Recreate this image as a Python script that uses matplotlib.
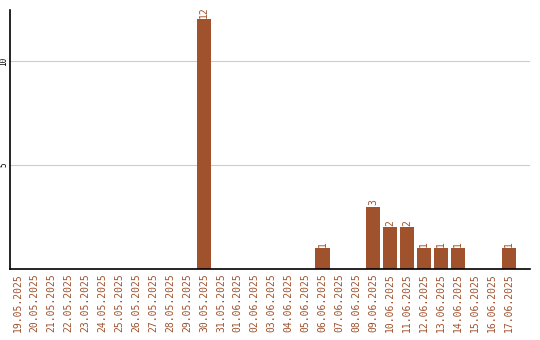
import matplotlib
matplotlib.use("Agg")
import matplotlib.pyplot as plt
import numpy as np

# dias e contagens
dates = ["19.05.2025", "20.05.2025", "21.05.2025", "22.05.2025", "23.05.2025",
         "24.05.2025", "25.05.2025", "26.05.2025", "27.05.2025", "28.05.2025",
         "29.05.2025", "30.05.2025", "31.05.2025", "01.06.2025", "02.06.2025",
         "03.06.2025", "04.06.2025", "05.06.2025", "06.06.2025", "07.06.2025",
         "08.06.2025", "09.06.2025", "10.06.2025", "11.06.2025", "12.06.2025",
         "13.06.2025", "14.06.2025", "15.06.2025", "16.06.2025", "17.06.2025"]
counts = [0, 0, 0, 0, 0, 0, 0, 0, 0, 0,
          0, 12, 0, 0, 0, 0, 0, 0, 1, 0,
          0, 3, 2, 2, 1, 1, 1, 0, 0, 1]
yticks = [5, 10]

COLOR = "#A0522D"
W, H = 540, 340

fig = plt.figure(figsize=(W/100, H/100), dpi=100)
ax = fig.add_axes([10/W, (H-269)/H, 520/W, 259/H])

x = np.arange(len(dates))
ax.bar(x, counts, width=0.83, color=COLOR, zorder=2)
for xi, c in zip(x, counts):
    if c > 0:
        ax.text(xi, c + 0.08, str(c), rotation=90, ha="center", va="bottom",
                color=COLOR, fontsize=7, family="DejaVu Sans Mono")

ax.set_xlim(-0.45, 30.25)
ax.set_ylim(0, 12.45)
ax.set_xticks(x)
ax.set_xticklabels(dates, rotation=90, color=COLOR, fontsize=7,
                   family="DejaVu Sans Mono")
ax.set_yticks(yticks)
ax.set_yticklabels([str(t) for t in yticks], rotation=90, va="center",
                   fontsize=5.5, family="DejaVu Sans Mono")
ax.tick_params(axis="x", length=0, pad=3)
ax.tick_params(axis="y", length=0, pad=1)
ax.grid(axis="y", color="#cccccc", linewidth=0.8, zorder=0)
for s in ["top", "right"]:
    ax.spines[s].set_visible(False)
ax.spines["left"].set_linewidth(1.2)
ax.spines["bottom"].set_linewidth(1.2)

fig.savefig("out.png", dpi=100)
